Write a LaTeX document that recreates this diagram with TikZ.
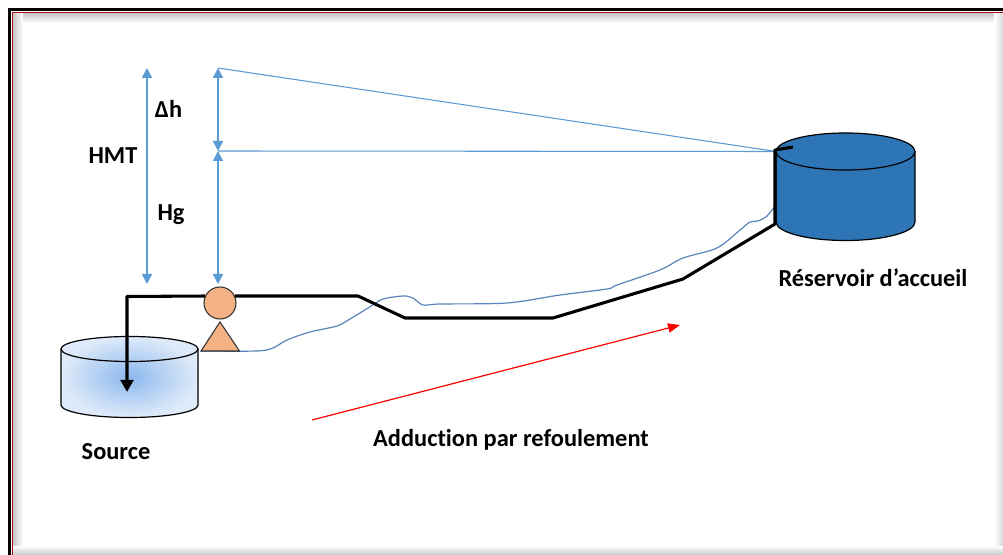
\documentclass[tikz,border=0pt]{standalone}
\usepackage{fontspec}
\setmainfont{Carlito}[Ligatures={NoCommon,NoDiscretionary,NoContextual}]
\usetikzlibrary{arrows.meta}
\definecolor{dimblue}{HTML}{5B9BD5}
\definecolor{groundblue}{HTML}{5A84BC}
\definecolor{tankblue}{HTML}{2E75B6}
\definecolor{pumporange}{HTML}{F4B183}
\definecolor{srcin}{HTML}{8CB8EE}
\definecolor{srcout}{HTML}{DEEAF9}
\definecolor{framered}{HTML}{B01010}
\begin{document}
\begin{tikzpicture}[x=0.75pt,y=-0.75pt,
  dimarrow/.style={draw=dimblue, line width=1.1pt,
    {Triangle[width=7.5pt,length=7.5pt]}-{Triangle[width=7.5pt,length=7.5pt]}},
  guide/.style={draw=dimblue, line width=0.8pt},
  pipe/.style={draw=black, line width=2.3pt, line join=round},
  tankline/.style={draw=black, line width=0.9pt},
  lbl/.style={font=\fontsize{18.3}{21}\selectfont\bfseries, inner sep=0pt, anchor=base},
  pumpbody/.style={circle, draw=black!80, line width=0.8pt, fill=pumporange,
    minimum size=24pt, inner sep=0pt}
]
\useasboundingbox (0,0) rectangle (1003,555);
\clip (0,0) rectangle (1003,555);
\fill[white] (0,0) rectangle (1003,555);

% frame with inner shadow
\shade[top color=black!22, bottom color=white] (13,13) rectangle (1003,23);
\shade[left color=black!22, right color=white] (13,13) rectangle (23,555);
\shade[left color=white, right color=black!15] (994,13) rectangle (1003,555);
\shade[top color=white, bottom color=black!22] (13,546) rectangle (1003,555);
\draw[black, line width=2.2pt] (9.5,560) -- (9.5,9.5) -- (1010,9.5);
\draw[framered, line width=1pt] (12.7,560) -- (12.7,12.7) -- (1010,12.7);

% source tank
\shade[inner color=srcin, outer color=srcout]
  (61,349) -- (61,405) arc[start angle=180,end angle=0,x radius=68.5,y radius=12.5]
  -- (198,349) arc[start angle=0,end angle=-180,x radius=68.5,y radius=12.5] -- cycle;
\draw[tankline] (61,349) -- (61,405) arc[start angle=180,end angle=0,x radius=68.5,y radius=12.5] -- (198,349);
\draw[tankline] (129.5,349) ellipse[x radius=68.5, y radius=12.5];
\coordinate (srcin) at (127,392);

% receiving reservoir
\fill[tankblue] (776,151.5) -- (776,222) arc[start angle=180,end angle=0,x radius=69.5,y radius=18.5]
  -- (915,151.5) arc[start angle=0,end angle=-180,x radius=69.5,y radius=18.5] -- cycle;
\draw[tankline] (776,151.5) -- (776,222) arc[start angle=180,end angle=0,x radius=69.5,y radius=18.5] -- (915,151.5);
\draw[tankline] (845.5,151.5) ellipse[x radius=69.5, y radius=18.5];
\coordinate (restop) at (776,151.5);
\coordinate (resfoot) at (775,224);
\coordinate (resin) at (793,147);

% ground profile
\draw[groundblue, line width=0.9pt] plot[smooth, tension=0.5] coordinates {
  (201,351) (257,351) (273,348) (287,340) (310,332) (337,326) (350,319)
  (373,305) (383,299) (403,296) (413,298) (423,305) (440,304) (507,303)
  (560,295) (607,289) (617,285) (660,270) (683,258) (717,248) (740,230)
  (750,222) (758,221) (767,216) (775,206)};

% head lines
\coordinate (htot) at (147,68);
\coordinate (hbot) at (147,284);
\coordinate (dtop) at (218,68);
\coordinate (dmid) at (218,151);
\coordinate (dbot) at (218,284);
\draw[guide] (dtop) -- (restop);
\draw[guide] (dmid) -- (restop);
\draw[dimarrow] (htot) -- (hbot);
\draw[dimarrow] (dtop) -- (dmid);
\draw[dimarrow] (dmid) -- (dbot);

% pump
\fill[pumporange, draw=black!80, line width=0.8pt] (220,322) -- (239.5,351) -- (201,351) -- cycle;
\node[pumpbody] (pump) at (220,303) {};
\coordinate (pumpbase) at (201,351);

% delivery main
\coordinate (k1) at (358,296);
\coordinate (k2) at (405,318);
\coordinate (k3) at (553,318);
\coordinate (k4) at (683,279);
\draw[pipe] (pump.25) -- (k1) -- (k2) -- (k3) -- (k4) -- (resfoot) -- (775,150) -- (resin);

% suction line
\coordinate (sk) at (127,296.5);
\draw[pipe, -{Triangle[width=9.5pt,length=9pt]}] (pump.155) -- (sk) -- (srcin);

% flow direction
\coordinate (fa) at (312,420);
\coordinate (fb) at (680,325);
\draw[red, line width=0.9pt, -{Triangle[width=7pt,length=9pt]}] (fa) -- (fb);

% labels
\node[lbl] (hmt) at (113,164) {HMT};
\node[lbl] (dh) at (168.5,118) {Δh};
\node[lbl] (hg) at (171,221) {Hg};
\node[lbl] (src) at (116,460) {Source};
\node[lbl] (add) at (511,447) {Adduction par refoulement};
\node[lbl] (res) at (873,287) {Réservoir d’accueil};
\end{tikzpicture}
\end{document}
